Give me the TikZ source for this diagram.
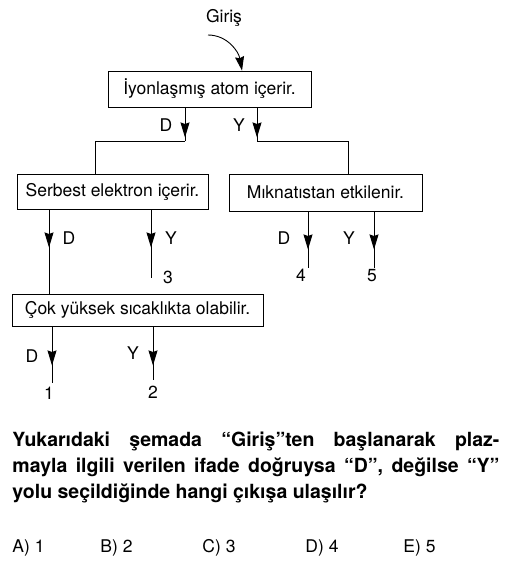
\documentclass[tikz,border=0pt]{standalone}
\usepackage{fontspec}
\setmainfont{TeX Gyre Heros}
\usetikzlibrary{positioning}
\usetikzlibrary{arrows.meta}
\usetikzlibrary{decorations.markings}

\begin{document}
\begin{tikzpicture}[x=1pt,y=-1pt,
                line width=0.9pt,
                font=\fontsize{17.5}{21}\selectfont,
                kutu/.style={draw,inner sep=0pt,minimum height=36pt},
                etiket/.style={inner sep=0pt},
                secenek/.style={inner sep=0pt,anchor=base west,font=\fontsize{17.5}{21}\selectfont},
                yol/.style={postaction={decorate},decoration={markings,
                    mark=at position #1 with {\arrow{Stealth[length=15pt,width=9pt,inset=1.5pt]}}}},
                yol/.default=38pt]
  \useasboundingbox (0,0) rectangle (504,564);
  % giris ve kutular
  \node[etiket] (giris) at (224,18) {Giriş};
  \node[kutu,minimum width=203pt] (iyon) at (209.5,89) {İyonlaşmış atom içerir.};
  \node[kutu,minimum width=191pt,minimum height=35pt] (serbest) at (112.5,191.5) {Serbest elektron içerir.};
  \node[kutu,minimum width=193pt,minimum height=37pt] (miknatis) at (325.5,192.5) {Mıknatıstan etkilenir.};
  \node[kutu,minimum width=251pt,minimum height=32pt] (sicak) at (137.5,310) {Çok yüksek sıcaklıkta olabilir.};
  % giris oku
  \coordinate (g0) at (208,35);
  \coordinate (g1) at (242,0);
  \draw[-{Stealth[length=14pt,width=9pt,inset=1.5pt]}] (g0) to[out=0,in=100] (iyon.north -| g1);
  % ilk ayrim
  \coordinate (d0) at (185,141);
  \coordinate (d1) at (95,0);
  \coordinate (y0) at (257,141);
  \coordinate (y1) at (348,0);
  \draw[yol=30pt] (iyon.south -| d0) -- (d0);
  \draw (d0) -| (serbest.north -| d1);
  \draw[yol=30pt] (iyon.south -| y0) -- (y0);
  \draw (y0) -| (miknatis.north -| y1);
  \node[etiket] (iyonD) at (166,125) {D};
  \node[etiket] (iyonY) at (239,125) {Y};
  % serbest elektron
  \coordinate (sd) at (49,0);
  \coordinate (c3) at (151,278);
  \draw[yol] (serbest.south -| sd) -- (sicak.north -| sd);
  \draw[yol] (serbest.south -| c3) -- (c3);
  \node[etiket] (serbestD) at (69,238) {D};
  \node[etiket] (serbestY) at (171,238) {Y};
  \node[etiket] (cikis3) at (168,277) {3};
  % miknatis
  \coordinate (c4) at (308,268);
  \coordinate (c5) at (374,268);
  \draw[yol] (miknatis.south -| c4) -- (c4);
  \draw[yol] (miknatis.south -| c5) -- (c5);
  \node[etiket] (miknatisD) at (284,238) {D};
  \node[etiket] (miknatisY) at (349,238) {Y};
  \node[etiket] (cikis4) at (301,275) {4};
  \node[etiket] (cikis5) at (372,276) {5};
  % yuksek sicaklik
  \coordinate (c1) at (52,383);
  \coordinate (c2) at (153,380);
  \draw[yol=39pt] (sicak.south -| c1) -- (c1);
  \draw[yol=39pt] (sicak.south -| c2) -- (c2);
  \node[etiket] (sicakD) at (32,356) {D};
  \node[etiket] (sicakY) at (133,353) {Y};
  \node[etiket] (cikis1) at (49,393) {1};
  \node[etiket] (cikis2) at (153,392) {2};
  % soru ve secenekler
  \node[anchor=north west,inner sep=0pt,text width=487pt,align=justify,
        font=\bfseries\fontsize{19.5}{26}\selectfont] (soru) at (12,432)
        {Yukarıdaki şemada “Giriş”ten başlanarak plaz-\linebreak
         mayla ilgili verilen ifade doğruysa “D”, değilse “Y”\linebreak
         yolu seçildiğinde hangi çıkışa ulaşılır?};
  \node[secenek] (secA) at (12,552) {A) 1};
  \node[secenek] (secB) at (100,552) {B) 2};
  \node[secenek] (secC) at (202,552) {C) 3};
  \node[secenek] (secD) at (305,552) {D) 4};
  \node[secenek] (secE) at (403,552) {E) 5};
\end{tikzpicture}
\end{document}
